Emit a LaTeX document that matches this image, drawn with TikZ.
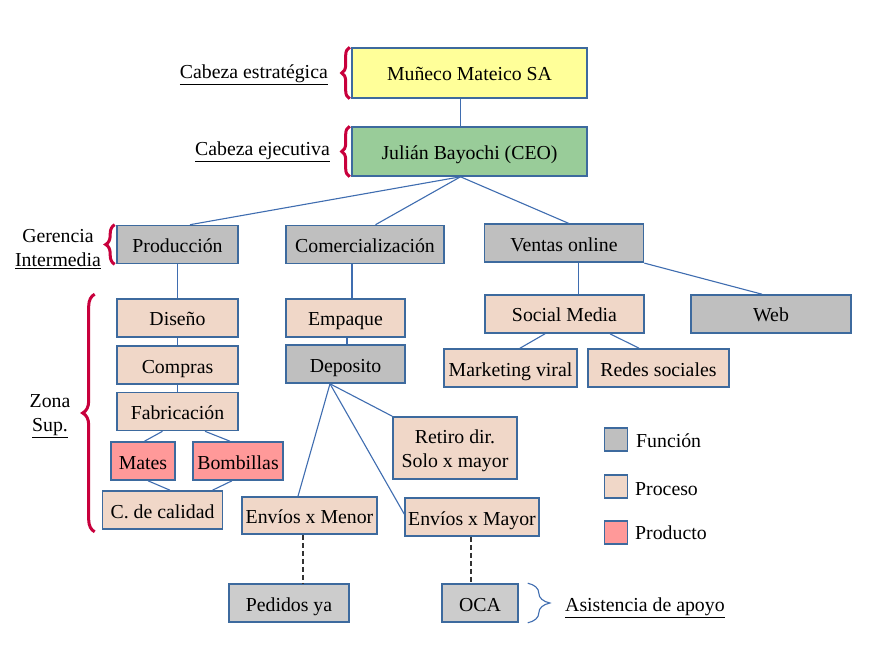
\documentclass[tikz,border=0pt]{standalone}
\usepackage{fontspec}
\setmainfont{Liberation Serif}
\usetikzlibrary{decorations.pathreplacing,calc}
\definecolor{bord}{HTML}{3D6A9E}
\definecolor{lcol}{HTML}{3F6DB0}
\definecolor{gfill}{HTML}{BFBFBF}
\definecolor{lgfill}{HTML}{CCCCCC}
\definecolor{pfill}{HTML}{F0D7C8}
\definecolor{rfill}{HTML}{FF9999}
\definecolor{yfill}{HTML}{FFFF99}
\definecolor{cfill}{HTML}{99CC99}
\definecolor{bred}{HTML}{C8003C}
\tikzset{
  box/.style={draw=bord, line width=1.6pt, inner sep=2pt, align=center, text height=19.5pt, text depth=3.5pt},
  fn/.style={box, fill=gfill},
  fnl/.style={box, fill=lgfill},
  pr/.style={box, fill=pfill},
  pd/.style={box, fill=rfill},
  conn/.style={draw=lcol, line width=1.1pt},
  dconn/.style={draw=black!80, line width=1.1pt, dash pattern=on 5pt off 3pt},
  rbrace/.style={draw=bred, line width=3pt, decorate, decoration={brace, amplitude=#1}},
  bbrace/.style={draw=lcol, line width=1.1pt, decorate, decoration={brace, amplitude=#1}},
}
\begin{document}
\begin{tikzpicture}[x=1pt,y=-1pt,font=\fontsize{19.8}{23.5}\selectfont]
\useasboundingbox[fill=white] (0,0) rectangle (870,652);
% top
\node[box, fill=yfill, minimum width=235, minimum height=50] (mun) at (469.5,73) {Muñeco Mateico SA};
\node[box, fill=cfill, minimum width=235, minimum height=49] (ceo) at (469.5,151.5) {Julián Bayochi (CEO)};
% level 2
\node[fn, minimum width=121, minimum height=38] (prod) at (177.5,244.5) {Producción};
\node[fn, minimum width=158, minimum height=38] (com) at (365,244.5) {Comercialización};
\node[fn, minimum width=159, minimum height=38] (ven) at (564,243.3) {Ventas online};
% production column
\node[pr, minimum width=121, minimum height=38] (dis) at (177.5,318) {Diseño};
\node[pr, minimum width=121, minimum height=38] (comp) at (177.5,365) {Compras};
\node[pr, minimum width=121, minimum height=38] (fab) at (177.5,411.5) {Fabricación};
\node[pd, minimum width=64, minimum height=38] (mates) at (143,461) {Mates};
\node[pd, minimum width=90, minimum height=38] (bomb) at (238,461) {Bombillas};
\node[pr, minimum width=120, minimum height=38] (cal) at (162.5,510) {C. de calidad};
% commercial column
\node[pr, minimum width=119, minimum height=38] (emp) at (345.5,318) {Empaque};
\node[fn, minimum width=119, minimum height=38] (dep) at (345.5,364) {Deposito};
\node[pr, minimum width=124, minimum height=62, text height=42pt, text depth=4pt] (ret) at (455,448) {Retiro dir.\\Solo x mayor};
\node[pr, minimum width=135, minimum height=37] (emen) at (309.5,515.5) {Envíos x Menor};
\node[pr, minimum width=134, minimum height=38] (emay) at (472,517) {Envíos x Mayor};
\node[fnl, minimum width=120, minimum height=38] (ped) at (289,603) {Pedidos ya};
\node[fnl, minimum width=76, minimum height=38] (oca) at (480,603) {OCA};
% online column
\node[pr, minimum width=159, minimum height=38] (soc) at (564.5,314) {Social Media};
\node[fn, minimum width=160, minimum height=38] (web) at (771,314) {Web};
\node[pr, minimum width=133, minimum height=38] (mkt) at (510.5,368) {Marketing viral};
\node[pr, minimum width=141, minimum height=38] (red) at (658.5,368) {Redes sociales};
% legend
\node[fn, minimum width=23, minimum height=23, inner sep=0pt, text height=0pt, text depth=0pt] (lfn) at (616,439.5) {};
\node[pr, minimum width=23, minimum height=23, inner sep=0pt, text height=0pt, text depth=0pt] (lpr) at (616,486.5) {};
\node[pd, minimum width=23, minimum height=23, inner sep=0pt, text height=0pt, text depth=0pt] (lpd) at (616,532.5) {};
\node[anchor=west, inner sep=0pt] (tfn) at (636,441) {Función};
\node[anchor=west, inner sep=0pt] (tpr) at (635,489.5) {Proceso};
\node[anchor=west, inner sep=0pt] (tpd) at (635,532.5) {Producto};
% side labels
\node[anchor=east, inner sep=0pt] (lce) at (328,75) {\underline{Cabeza estratégica}};
\node[anchor=east, inner sep=0pt] (lcj) at (330,152) {\underline{Cabeza ejecutiva}};
\node[align=center, inner sep=0pt] (lger) at (58,249) {Gerencia\\\underline{Intermedia}};
\node[align=center, inner sep=0pt] (lzon) at (50,416) {Zona\\\underline{Sup.}};
\node[anchor=west, inner sep=0pt] (lasi) at (565,608) {\underline{Asistencia de apoyo}};
% braces
\draw[rbrace=8pt] ([xshift=-1.5pt]mun.south west) -- ([xshift=-1.5pt]mun.north west);
\draw[rbrace=8pt] ([xshift=-1.5pt]ceo.south west) -- ([xshift=-1.5pt]ceo.north west);
\draw[rbrace=9pt] ([xshift=-1.5pt]prod.south west) -- ([xshift=-1.5pt]prod.north west);
\draw[rbrace=12pt] ($(cal.south west)+(-7,2)$) -- ($(cal.south west |- dis.north west)+(-7,-4)$);
\draw[bbrace=22pt] ([xshift=9pt]oca.north east) -- ([xshift=9pt]oca.south east);
% connectors
\draw[conn] ([xshift=-9pt]mun.south) -- ([xshift=-9pt]ceo.north);
\draw[conn] ([xshift=-9pt]ceo.south) -- ([xshift=12.5pt]prod.north);
\draw[conn] ([xshift=-9pt]ceo.south) -- ([xshift=10.5pt]com.north);
\draw[conn] ([xshift=-9pt]ceo.south) -- ([xshift=5pt]ven.north);
\draw[conn] (prod.south) -- (dis.north);
\draw[conn] (dis.south) -- (comp.north);
\draw[conn] (comp.south) -- (fab.north);
\draw[conn] ([xshift=-15pt]fab.south) -- ([xshift=1.5pt]mates.north);
\draw[conn] ([xshift=27.5pt]fab.south) -- ([xshift=-8pt]bomb.north);
\draw[conn] ([xshift=5pt]mates.south) -- ([xshift=7.5pt]cal.north);
\draw[conn] ([xshift=-6pt]bomb.south) -- ([xshift=50pt]cal.north);
\draw[conn] ([xshift=-13pt]com.south) -- ([xshift=6.5pt]emp.north);
\draw[conn] ([xshift=1.5pt]emp.south) -- ([xshift=1.5pt]dep.north);
\draw[conn] ([xshift=-15.5pt]dep.south) -- (ret.north west);
\draw[conn] ([xshift=-15.5pt]dep.south) -- ([xshift=-11.5pt]emen.north);
\draw[conn] ([xshift=-15.5pt]dep.south) -- ([yshift=3pt]emay.west);
\draw[dconn] ([xshift=-6.5pt]emen.south) -- ([xshift=14pt]ped.north);
\draw[dconn] ([xshift=-1pt]emay.south) -- ([xshift=-9pt]oca.north);
\draw[conn] ([xshift=14.5pt]ven.south) -- ([xshift=14pt]soc.north);
\draw[conn] (ven.south east) -- ([xshift=-9pt]web.north);
\draw[conn] ([xshift=-19.5pt]soc.south) -- ([xshift=9.5pt]mkt.north);
\draw[conn] ([xshift=45.5pt]soc.south) -- ([xshift=-19.5pt]red.north);
\end{tikzpicture}
\end{document}
